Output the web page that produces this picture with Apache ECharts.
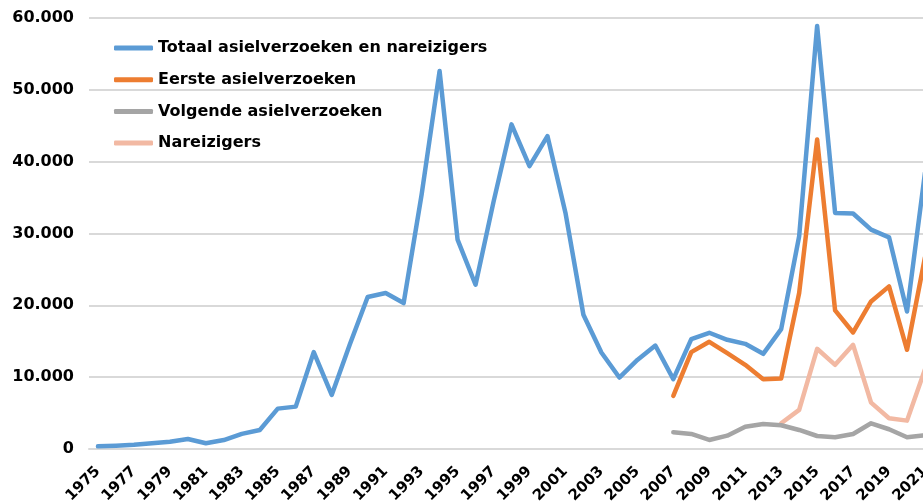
<!DOCTYPE html>
<html>
<head>
<meta charset="utf-8">
<script src="https://cdn.jsdelivr.net/npm/echarts@6/dist/echarts.min.js"></script>
<style>
html,body{margin:0;padding:0;background:#fff;overflow:hidden;width:923px;height:503px;}
#chart{width:940px;height:503px;}
</style>
</head>
<body>
<div id="chart"></div>
<script>
const years = ['1975','1976','1977','1978','1979','1980','1981','1982','1983','1984','1985','1986','1987','1988','1989','1990','1991','1992','1993','1994','1995','1996','1997','1998','1999','2000','2001','2002','2003','2004','2005','2006','2007','2008','2009','2010','2011','2012','2013','2014','2015','2016','2017','2018','2019','2020','2021'];

const totaal = [370,460,600,800,1020,1390,795,1250,2100,2650,5620,5900,13490,7530,14500,21160,21720,20320,35400,52620,29150,22870,34400,45190,39370,43560,32900,18690,13430,9950,12400,14400,9720,15300,16180,15200,14640,13250,16690,29610,58900,32870,32780,30540,29470,19150,38500];

const eerste = [null,null,null,null,null,null,null,null,null,null,null,null,null,null,null,null,null,null,null,null,null,null,null,null,null,null,null,null,null,null,null,null,7390,13490,14920,13350,11720,9720,9810,21710,43100,19290,16220,20540,22640,13810,26700];

const volgende = [null,null,null,null,null,null,null,null,null,null,null,null,null,null,null,null,null,null,null,null,null,null,null,null,null,null,null,null,null,null,null,null,2330,2090,1255,1860,3110,3490,3300,2650,1810,1630,2090,3580,2750,1630,1900];

const nareizigers = [null,null,null,null,null,null,null,null,null,null,null,null,null,null,null,null,null,null,null,null,null,null,null,null,null,null,null,null,null,null,null,null,null,null,null,null,null,null,3580,5440,13950,11720,14500,6460,4280,3950,11100];

const seriesNames = ['Totaal asielverzoeken en nareizigers','Eerste asielverzoeken','Volgende asielverzoeken','Nareizigers'];
const yTicks = [0,10000,20000,30000,40000,50000,60000];

const colors = ['#5b9bd5','#ed7d31','#a5a5a5','#f2b9a3'];
const fontFam = '"DejaVu Sans", Verdana, sans-serif';

function fmt(v){ return String(v).replace(/\B(?=(\d{3})+(?!\d))/g,'.'); }

const chart = echarts.init(document.getElementById('chart'));
const dataSets = [totaal, eerste, volgende, nareizigers];
chart.setOption({
  animation:false,
  color: colors,
  grid:{left:89, top:18, width:845, height:431, containLabel:false, outerBoundsMode:'none'},
  legend:{
    orient:'vertical', left:114, top:38, padding:0,
    itemWidth:39, itemHeight:5, itemGap:11.7,
    icon:'roundRect',
    textStyle:{fontFamily:fontFam, fontWeight:'bold', fontSize:16, color:'#000', lineHeight:20},
    data: seriesNames
  },
  xAxis:{
    type:'category', data:years, boundaryGap:true,
    axisLine:{show:true, lineStyle:{color:'#d9d9d9', width:2}},
    axisTick:{show:false},
    axisLabel:{interval:1, rotate:45, margin:20, color:'#000', fontFamily:fontFam, fontWeight:'bold', fontSize:15}
  },
  yAxis:{
    type:'value', min:yTicks[0], max:yTicks[yTicks.length-1], interval:10000,
    axisLine:{show:false}, axisTick:{show:false},
    splitLine:{lineStyle:{color:'#d9d9d9', width:2}},
    axisLabel:{margin:15, color:'#000', fontFamily:fontFam, fontWeight:'bold', fontSize:16, formatter:fmt}
  },
  series: seriesNames.map((n,i)=>({
    name:n, type:'line', data:dataSets[i], showSymbol:false, symbol:'none',
    connectNulls:false,
    lineStyle:{width:4.5, color:colors[i], cap:'round', join:'round'},
    itemStyle:{color:colors[i]},
    z: 10-i
  }))
});
</script>
</body>
</html>
